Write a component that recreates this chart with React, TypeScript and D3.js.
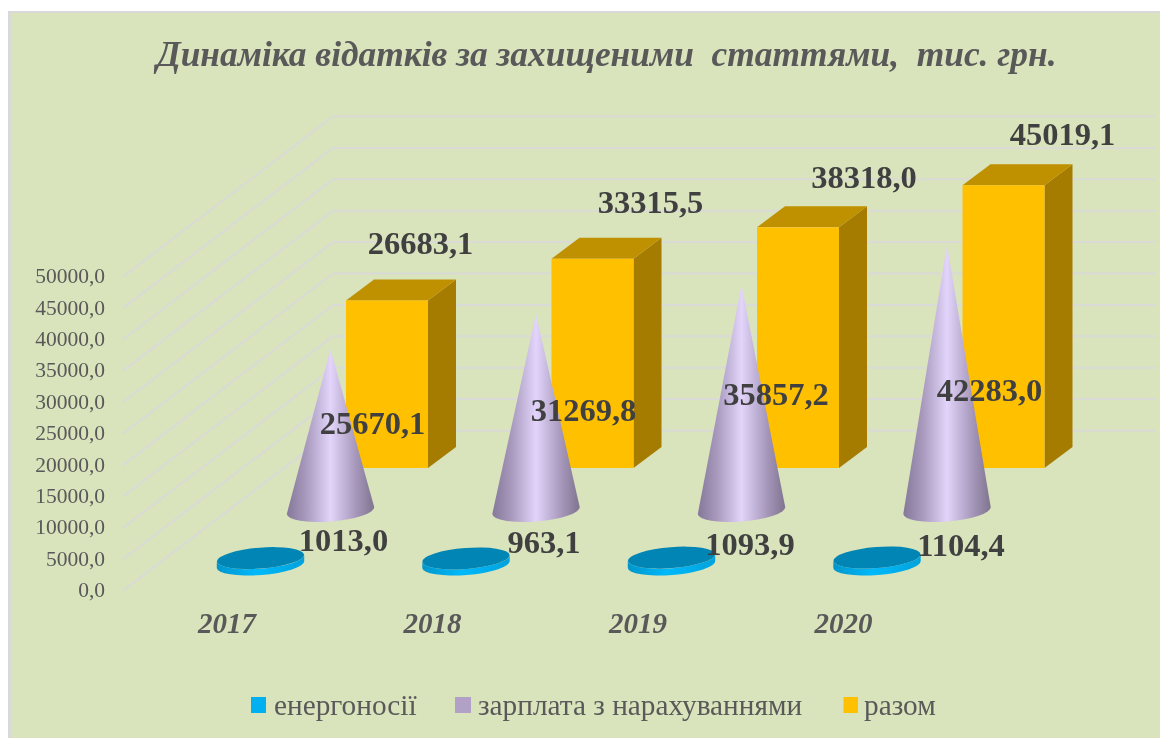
import React from "react";
import * as d3 from "d3";

const years = ["2017", "2018", "2019", "2020"];
const energy = [1013.0, 963.1, 1093.9, 1104.4];
const salary = [25670.1, 31269.8, 35857.2, 42283.0];
const total = [26683.1, 33315.5, 38318.0, 45019.1];
const yTicks = [0, 5000, 10000, 15000, 20000, 25000, 30000, 35000, 40000, 45000, 50000];
const legendItems = ["енергоносії", "зарплата з нарахуваннями", "разом"];
const titleText = "Динаміка відатків за захищеними  статтями,  тис. грн.";

const fmt = (v: number) => v.toFixed(1).replace(".", ",");

// layout
const W = 1160, H = 738;
const x = d3.scalePoint<string>().domain(years).range([260.5, 877]);
const rise = d3.scaleLinear().domain([0, 50000]).range([0, 314]);
const FRONT0 = 590.7, BACK0 = 430.5, LEFT = 123, BACKX = 333, RIGHT = 1156;
const CONE_DX = 70, BAR_DX = 85.5, BAR_W = 82, DEPTH_X = 28, DEPTH_Y = 21;
const BAR_BASE = 468, CONE_BASE = 510.5, DISC_BASE = 564.5;
const RX = 43.7, RY_CONE = 11, RY_DISC = 10.5, TILT = -4.5;
const tan = Math.tan((TILT * Math.PI) / 180);

const energyNudge: [number, number][] = [[83, 551], [78, 553], [78.5, 555], [84, 556]];
const salaryNudge: [number, number][] = [[112, 434], [117.5, 421], [104.5, 405], [112.5, 401]];
const totalNudge: [number, number][] = [[160, 254], [184.5, 213], [192.5, 188], [185.5, 145]];

const dark = "#404040";
const grey = "#595959";
const serif = "'Liberation Serif', 'Times New Roman', serif";

function Disc({ cx, v }: { cx: number; v: number }) {
  const t = rise(v);
  const lx = cx - RX, rx = cx + RX;
  const ly = DISC_BASE - RX * tan, ry = DISC_BASE + RX * tan;
  const side = `M${lx},${ly - t} L${lx},${ly} A${RX},${RY_DISC} ${TILT} 0 0 ${rx},${ry} L${rx},${ry - t} A${RX},${RY_DISC} ${TILT} 0 1 ${lx},${ly - t} Z`;
  return (
    <g>
      <path d={side} fill="url(#discSide)" />
      <ellipse cx={cx} cy={DISC_BASE - t} rx={RX} ry={RY_DISC} transform={`rotate(${TILT} ${cx} ${DISC_BASE - t})`} fill="#0085b5" />
    </g>
  );
}

function Cone({ cx, v }: { cx: number; v: number }) {
  const lx = cx - RX, rx = cx + RX;
  const ly = CONE_BASE - RX * tan, ry = CONE_BASE + RX * tan;
  const d = `M${cx},${CONE_BASE - rise(v)} L${lx},${ly} A${RX},${RY_CONE} ${TILT} 0 0 ${rx},${ry} Z`;
  return <path d={d} fill="url(#coneFill)" />;
}

function Bar({ cx, v }: { cx: number; v: number }) {
  const l = cx, r = cx + BAR_W;
  const top = BAR_BASE - rise(v);
  return (
    <g>
      <path d={`M${r},${top} L${r + DEPTH_X},${top - DEPTH_Y} L${r + DEPTH_X},${BAR_BASE - DEPTH_Y} L${r},${BAR_BASE} Z`} fill="#a67c00" />
      <path d={`M${l},${top} L${l + DEPTH_X},${top - DEPTH_Y} L${r + DEPTH_X},${top - DEPTH_Y} L${r},${top} Z`} fill="#bf9000" />
      <rect x={l} y={top} width={BAR_W} height={rise(v)} fill="#ffc000" />
    </g>
  );
}

export default function App() {
  const legendSw = [[251, 15, "#00b0f0", 274], [455, 16, "#b2a1c7", 478], [843.5, 14.5, "#ffc000", 864]] as const;
  const labelProps = { fontFamily: serif, fontWeight: 700, fontSize: 32.5, fill: dark, textAnchor: "middle" as const };
  return (
    <svg width={W} height={H} viewBox={`0 0 ${W} ${H}`} style={{ position: "absolute", left: 0, top: 0, display: "block" }}>
      <defs>
        <linearGradient id="coneFill" x1="0" x2="1" y1="0" y2="0">
          <stop offset="0" stopColor="#85789a" />
          <stop offset="0.22" stopColor="#a899bd" />
          <stop offset="0.5" stopColor="#e2d4fa" />
          <stop offset="0.78" stopColor="#a899bd" />
          <stop offset="1" stopColor="#80748f" />
        </linearGradient>
        <linearGradient id="discSide" x1="0" x2="1" y1="0" y2="0">
          <stop offset="0" stopColor="#0096cc" />
          <stop offset="0.45" stopColor="#00b9fa" />
          <stop offset="1" stopColor="#00a2dc" />
        </linearGradient>
      </defs>
      <rect x={8} y={11} width={W - 8} height={H - 11} fill="#d9d9d9" />
      <rect x={11} y={13} width={W - 11} height={H - 13} fill="#d9e3bc" />

      <g style={{ filter: "blur(0.4px)" }}>
        <text x={606.5} y={66} textAnchor="middle" xmlSpace="preserve" style={{ whiteSpace: "pre" }} fontFamily={serif} fontWeight={700} fontStyle="italic" fontSize={35.4} fill={grey}>{titleText}</text>

        {yTicks.map((t) => (
          <g key={t}>
            <path
              d={`M${LEFT},${FRONT0 - rise(t)} L${BACKX},${BACK0 - rise(t)} L${RIGHT},${BACK0 - rise(t)}`}
              fill="none" stroke="#dadad6" strokeWidth={2}
            />
            <text x={105} y={FRONT0 - rise(t) + 6.5} textAnchor="end" fontFamily={serif} fontSize={21.5} fill={grey}>{fmt(t)}</text>
          </g>
        ))}

        {years.map((y, i) => <Bar key={y} cx={x(y)! + BAR_DX} v={total[i]} />)}
        {years.map((y, i) => <Cone key={y} cx={x(y)! + CONE_DX} v={salary[i]} />)}
        {years.map((y, i) => <Disc key={y} cx={x(y)!} v={energy[i]} />)}

        {years.map((y) => (
          <text key={y} x={x(y)! - 33.5} y={633} textAnchor="middle" fontFamily={serif} fontWeight={700} fontStyle="italic" fontSize={29} fill={grey}>{y}</text>
        ))}

        {years.map((y, i) => (
          <g key={y}>
            <text {...labelProps} x={x(y)! + energyNudge[i][0]} y={energyNudge[i][1]}>{fmt(energy[i])}</text>
            <text {...labelProps} x={x(y)! + salaryNudge[i][0]} y={salaryNudge[i][1]}>{fmt(salary[i])}</text>
            <text {...labelProps} x={x(y)! + totalNudge[i][0]} y={totalNudge[i][1]}>{fmt(total[i])}</text>
          </g>
        ))}

        {legendItems.map((name, i) => (
          <g key={name}>
            <rect x={legendSw[i][0]} y={697} width={legendSw[i][1]} height={16} fill={legendSw[i][2]} />
            <text x={legendSw[i][3]} y={714.5} fontFamily={serif} fontSize={29.3} fill={grey}>{name}</text>
          </g>
        ))}
      </g>
    </svg>
  );
}
